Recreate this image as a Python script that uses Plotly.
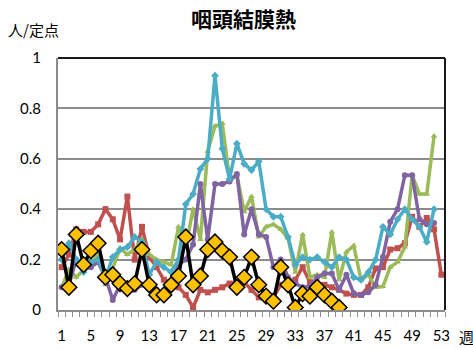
import plotly.graph_objects as go

# Weekly reports per sentinel site, weeks 1-53
weeks = list(range(1, 54))

red_vals = [0.17, 0.22, 0.32, 0.31, 0.31, 0.34, 0.40, 0.36, 0.28, 0.45,
            0.20, 0.33, 0.21, 0.17, 0.12, 0.11, 0.09, 0.06, 0.01, 0.08,
            0.07, 0.08, 0.09, 0.105, 0.11, 0.11, 0.08, 0.05, 0.045, 0.05,
            0.10, 0.09, 0.12, 0.17, 0.11, 0.105, 0.10, 0.09, 0.08, 0.065,
            0.06, 0.06, 0.09, 0.165, 0.17, 0.24, 0.245, 0.265, 0.37, 0.33,
            0.365, 0.32, 0.14]

green_vals = [0.09, 0.16, 0.13, 0.16, 0.17, 0.23, 0.10, 0.165, 0.245, 0.22,
              0.24, 0.28, 0.22, 0.20, 0.19, 0.18, 0.33, 0.25, 0.40, 0.28,
              0.63, 0.73, 0.74, 0.52, 0.535, 0.39, 0.45, 0.29, 0.33, 0.34,
              0.32, 0.285, 0.15, 0.30, 0.13, 0.14, 0.13, 0.31, 0.12, 0.23,
              0.255, 0.12, 0.14, 0.09, 0.093, 0.17, 0.19, 0.25, 0.535, 0.46,
              0.46, 0.69, None]

purple_vals = [0.09, 0.10, 0.20, 0.18, 0.17, 0.19, 0.13, 0.04, 0.10, 0.07,
               0.08, 0.10, 0.10, 0.08, 0.06, 0.10, 0.18, 0.20, 0.26, 0.50,
               0.28, 0.50, 0.50, 0.51, 0.54, 0.30, 0.40, 0.30, 0.29, 0.17,
               0.20, 0.13, 0.105, 0.09, 0.093, 0.13, 0.145, 0.145, 0.08, 0.14,
               0.066, 0.06, 0.07, 0.10, 0.21, 0.35, 0.40, 0.535, 0.535, 0.36,
               0.34, 0.345, None]

aqua_vals = [0.20, 0.265, 0.20, 0.15, 0.19, 0.20, 0.13, 0.21, 0.24, 0.25,
             0.29, 0.27, 0.14, 0.19, 0.17, 0.15, 0.20, 0.42, 0.46, 0.56,
             0.60, 0.93, 0.64, 0.52, 0.66, 0.58, 0.555, 0.59, 0.40, 0.37,
             0.37, 0.29, 0.18, 0.21, 0.20, 0.21, 0.19, 0.17, 0.21, 0.20,
             0.13, 0.12, 0.15, 0.20, 0.33, 0.30, 0.36, 0.40, 0.36, 0.33,
             0.27, 0.40, None]

current_vals = [0.24, 0.09, 0.30, 0.18, 0.235, 0.265, 0.13, 0.14, 0.105, 0.085,
                0.105, 0.24, 0.10, 0.06, 0.06, 0.10, 0.135, 0.29, 0.10, 0.135,
                0.24, 0.27, 0.235, 0.21, 0.09, 0.13, 0.21, 0.10, 0.055, 0.035,
                0.17, 0.10, 0.01, 0.065, 0.055, 0.09, 0.06, 0.035, 0.01]
current_vals = current_vals + [None] * (len(weeks) - len(current_vals))

x_tick_vals = list(range(1, 54, 4))
x_tick_text = [str(v) for v in x_tick_vals]
y_tick_vals = [0, 0.2, 0.4, 0.6, 0.8, 1]
y_tick_text = ["0", "0.2", "0.4", "0.6", "0.8", "1"]

fig = go.Figure()

past_series = [
    (red_vals, "#C0504D", "square", 6),
    (green_vals, "#9BBB59", "triangle-up", 6),
    (purple_vals, "#8064A2", "circle", 6),
    (aqua_vals, "#4BACC6", "diamond", 6),
]
for vals, color, symbol, msize in past_series:
    fig.add_trace(go.Scatter(
        x=weeks, y=vals, mode="lines+markers",
        line=dict(color=color, width=3.5),
        marker=dict(symbol=symbol, size=msize, color=color),
        connectgaps=False, showlegend=False,
    ))

fig.add_trace(go.Scatter(
    x=weeks, y=current_vals, mode="lines+markers",
    line=dict(color="#000000", width=3.5),
    marker=dict(symbol="diamond", size=12, color="#FFC000",
                line=dict(color="#000000", width=1.5)),
    showlegend=False,
))

font_family = "Lato, 'Noto Sans CJK JP', sans-serif"

fig.update_layout(
    width=473, height=349,
    margin=dict(l=58, r=28, t=58, b=39),
    paper_bgcolor="white", plot_bgcolor="white",
    font=dict(family=font_family, size=15, color="#000000"),
    title=dict(text="<b>咽頭結膜熱</b>", x=0.515, xanchor="center", y=0.945, yanchor="middle",
               font=dict(family="'Noto Sans CJK JP'", size=21, color="#000000")),
    xaxis=dict(
        range=[0.5, 53.5], tickmode="array",
        tickvals=x_tick_vals, ticktext=x_tick_text,
        ticks="", showgrid=False, zeroline=False,
        showline=True, linecolor="#8C8C8C", linewidth=2,
        ticklabelstandoff=11, automargin=False,
        minor=dict(tickvals=[w + 0.5 for w in range(0, 54)], ticks="outside",
                   ticklen=5, tickcolor="#8C8C8C", tickwidth=1, showgrid=False),
        tickfont=dict(size=15),
    ),
    yaxis=dict(
        range=[0, 1], tickmode="array",
        tickvals=y_tick_vals, ticktext=y_tick_text,
        ticks="", showgrid=True, gridcolor="#8C8C8C", gridwidth=1.5,
        zeroline=False, showline=True, linecolor="#8C8C8C", linewidth=2,
        ticklabelstandoff=12, automargin=False, tickfont=dict(size=15),
    ),
    shapes=[
        dict(type="line", xref="paper", yref="paper", x0=0, x1=1, y0=1, y1=1,
             line=dict(color="#1A1A1A", width=2)),
        dict(type="line", xref="paper", yref="paper", x0=1, x1=1, y0=0, y1=1,
             line=dict(color="#1A1A1A", width=2)),
    ],
    annotations=[
        dict(text="人/定点", xref="paper", yref="paper", x=-0.135, y=1.115,
             xanchor="left", yanchor="middle", showarrow=False,
             font=dict(family="'Noto Sans CJK JP'", size=15)),
        dict(text="週", xref="paper", yref="paper", x=1.03, y=-0.105,
             xanchor="left", yanchor="middle", showarrow=False,
             font=dict(family="'Noto Sans CJK JP'", size=15)),
    ],
)

fig.write_html("out.html")
